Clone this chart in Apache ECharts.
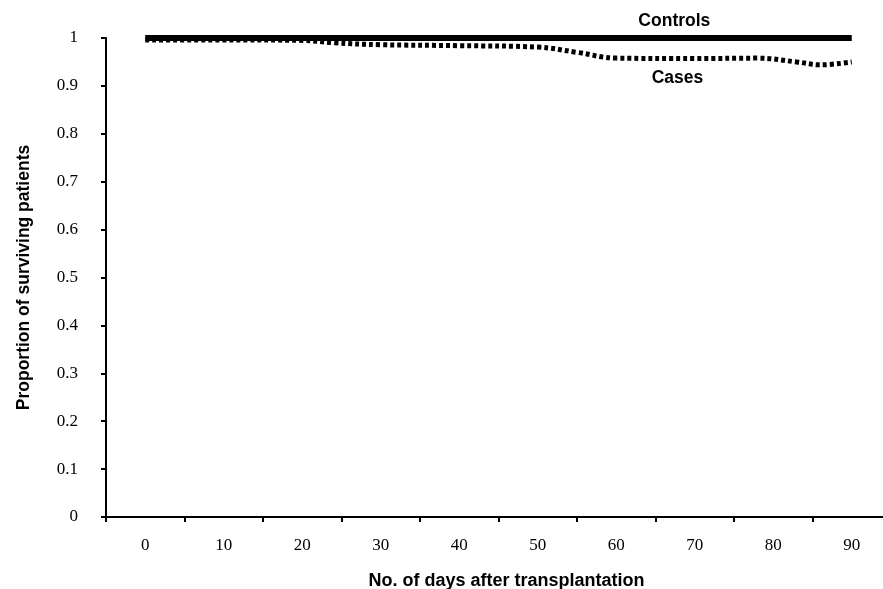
<!DOCTYPE html>
<html>
<head>
<meta charset="utf-8">
<script src="https://cdn.jsdelivr.net/npm/echarts@6/dist/echarts.min.js"></script>
<style>
  html, body { margin: 0; padding: 0; background: #fff; }
  #chart { width: 883px; height: 589px; }
</style>
</head>
<body>
<div id="chart"></div>
<script>
const dayLabels = ['0', '10', '20', '30', '40', '50', '60', '70', '80', '90'];

// Kaplan-Meier style survival curves (day, proportion)
const controlsData = [[0, 1], [90, 1]];
const casesData = [
    [0, 0.996], [10, 0.996], [20, 0.995], [24, 0.990], [30, 0.986],
    [40, 0.984], [50, 0.981], [55, 0.970], [60, 0.958], [70, 0.957],
    [78, 0.958], [83, 0.950], [86, 0.944], [90, 0.950]
];

const serifFont = '"Liberation Serif", "Times New Roman", serif';
const sansFont = '"Liberation Sans", Arial, sans-serif';

const chart = echarts.init(document.getElementById('chart'));

const option = {
    backgroundColor: '#fff',
    animation: false,
    grid: {
        left: 106,
        right: -8,
        top: 38,
        bottom: 72,
        outerBoundsMode: 'none'
    },
    xAxis: [
        {
            type: 'category',
            data: dayLabels,
            boundaryGap: true,
            name: 'No. of days after transplantation',
            nameLocation: 'middle',
            nameGap: 55,
            nameTextStyle: {
                fontFamily: sansFont, fontWeight: 'bold', fontSize: 18, color: '#000',
                padding: [0, 0, 0, 16]
            },
            axisLine: { lineStyle: { color: '#000', width: 2 } },
            axisTick: { show: true, length: 5, interval: 0, lineStyle: { color: '#000', width: 2 } },
            axisLabel: { fontFamily: serifFont, fontSize: 17, color: '#000', margin: 20, interval: 0 },
            splitLine: { show: false }
        },
        {
            type: 'value',
            min: -5,
            max: 95,
            show: false
        }
    ],
    yAxis: {
        type: 'value',
        min: 0,
        max: 1,
        interval: 0.1,
        name: 'Proportion of surviving patients',
        nameLocation: 'middle',
        nameGap: 73,
        nameTextStyle: { fontFamily: sansFont, fontWeight: 'bold', fontSize: 17.5, color: '#000' },
        axisLine: { show: true, onZero: false, lineStyle: { color: '#000', width: 2 } },
        axisTick: { show: true, length: 5, lineStyle: { color: '#000', width: 2 } },
        axisLabel: { fontFamily: serifFont, fontSize: 17, color: '#000', margin: 28 },
        splitLine: { show: false }
    },
    series: [
        {
            name: 'Cases',
            type: 'line',
            xAxisIndex: 1,
            data: casesData,
            smooth: 0.4,
            showSymbol: false,
            clip: false,
            lineStyle: { color: '#000', width: 5, type: [4, 3] },
            markPoint: {
                symbol: 'circle',
                symbolSize: 0,
                data: [{ coord: [67.8, 0.957] }],
                label: {
                    show: true,
                    formatter: 'Cases',
                    position: 'bottom',
                    distance: 11,
                    fontFamily: sansFont,
                    fontWeight: 'bold',
                    fontSize: 17.5,
                    color: '#000'
                }
            }
        },
        {
            name: 'Controls',
            type: 'line',
            xAxisIndex: 1,
            data: controlsData,
            showSymbol: false,
            clip: false,
            lineStyle: { color: '#000', width: 6 },
            markPoint: {
                symbol: 'circle',
                symbolSize: 0,
                data: [{ coord: [67.4, 1] }],
                label: {
                    show: true,
                    formatter: 'Controls',
                    position: 'top',
                    distance: 8,
                    fontFamily: sansFont,
                    fontWeight: 'bold',
                    fontSize: 17.5,
                    color: '#000'
                }
            }
        }
    ]
};

chart.setOption(option);
</script>
</body>
</html>
